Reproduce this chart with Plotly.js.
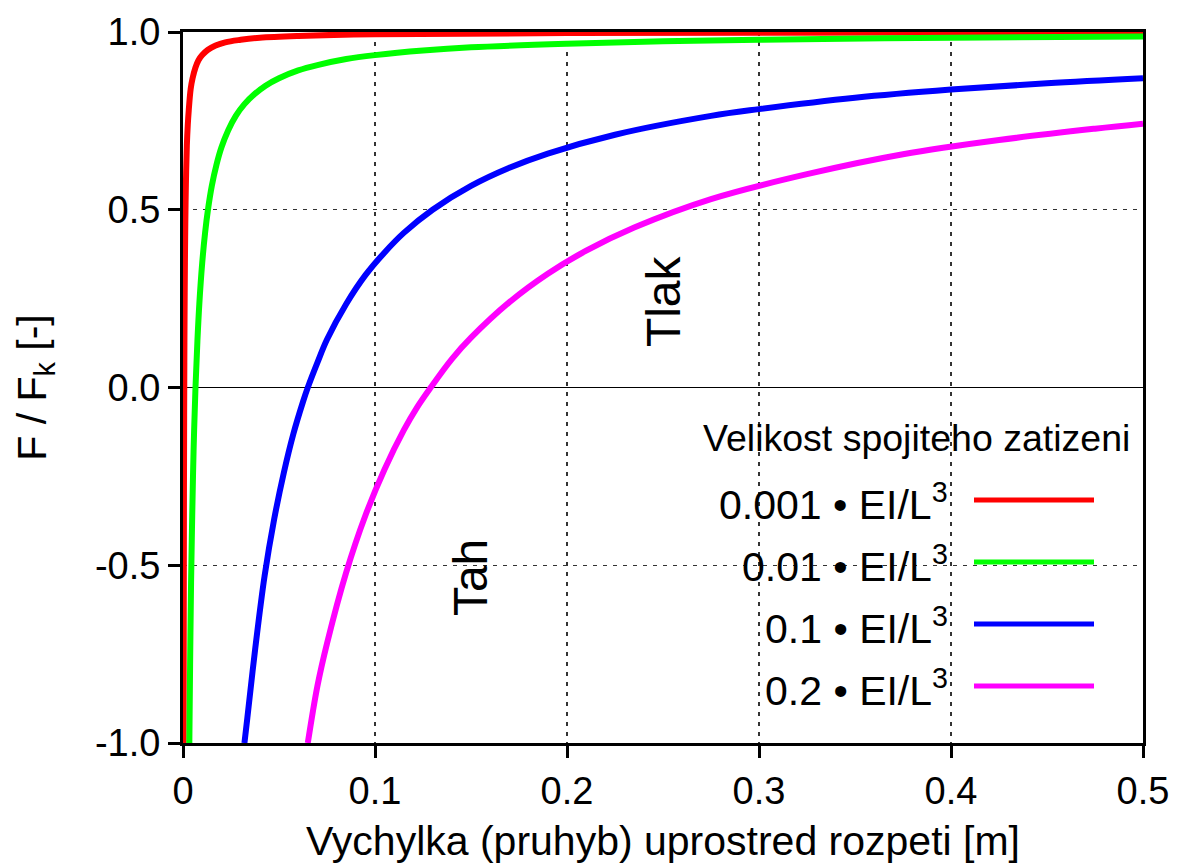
<!DOCTYPE html>
<html>
<head>
<meta charset="utf-8">
<script src="https://cdn.plot.ly/plotly-3.0.1.min.js"></script>
<style>
  html, body { margin: 0; padding: 0; background: #ffffff; }
  #chart { width: 1181px; height: 866px; }
</style>
</head>
<body>
<div id="chart"></div>
<script>
// ---- Data ----
const seriesNames = ["0.001 \u2022 EI/L<sup>3</sup>", "0.01 \u2022 EI/L<sup>3</sup>", "0.1 \u2022 EI/L<sup>3</sup>", "0.2 \u2022 EI/L<sup>3</sup>"];
const seriesColors = ["#ff0000", "#00ff00", "#0000ff", "#ff00ff"];

const redX = [0.00031, 0.0004, 0.0005, 0.0006, 0.0007, 0.0008, 0.001, 0.0012, 0.0015, 0.002, 0.0025, 0.003, 0.004, 0.005, 0.0065, 0.008, 0.01, 0.013, 0.017, 0.022, 0.03, 0.04, 0.06, 0.1, 0.2, 0.5];
const redY = [-1.0, -0.62, -0.3, -0.08, 0.07, 0.19, 0.35, 0.46, 0.57, 0.68, 0.74, 0.78, 0.84, 0.87, 0.9, 0.92, 0.935, 0.95, 0.962, 0.971, 0.978, 0.984, 0.989, 0.994, 0.997, 0.999];

const greenX = [0.0033, 0.0037, 0.0042, 0.0048, 0.0055, 0.0065, 0.0075, 0.0085, 0.01, 0.0115, 0.013, 0.015, 0.0175, 0.02, 0.0235, 0.0275, 0.032, 0.037, 0.043, 0.05, 0.06, 0.07, 0.085, 0.1, 0.125, 0.15, 0.2, 0.25, 0.3, 0.4, 0.5];
const greenY = [-1.0, -0.78, -0.55, -0.36, -0.18, 0.0, 0.13, 0.235, 0.35, 0.435, 0.5, 0.567, 0.628, 0.675, 0.723, 0.764, 0.797, 0.824, 0.849, 0.87, 0.892, 0.907, 0.924, 0.935, 0.948, 0.957, 0.967, 0.974, 0.978, 0.984, 0.987];

const blueX = [0.032, 0.0335, 0.0375, 0.0425, 0.0475, 0.0525, 0.0575, 0.0625, 0.065, 0.07, 0.075, 0.085, 0.095, 0.105, 0.115, 0.13, 0.15, 0.17, 0.19, 0.225, 0.275, 0.3, 0.35, 0.4, 0.45, 0.5];
const blueY = [-1.0, -0.93, -0.74, -0.53, -0.37, -0.24, -0.13, -0.04, 0.0, 0.07, 0.135, 0.235, 0.316, 0.38, 0.435, 0.5, 0.567, 0.618, 0.658, 0.711, 0.764, 0.783, 0.815, 0.838, 0.856, 0.87];

const magentaX = [0.065, 0.07, 0.075, 0.085, 0.095, 0.105, 0.115, 0.122, 0.129, 0.14, 0.15, 0.17, 0.19, 0.21, 0.235, 0.275, 0.325, 0.375, 0.425, 0.475, 0.5];
const magentaY = [-1.0, -0.84, -0.72, -0.52, -0.36, -0.23, -0.12, -0.055, 0.0, 0.08, 0.14, 0.24, 0.32, 0.385, 0.45, 0.53, 0.6, 0.656, 0.696, 0.728, 0.742];

const yTickVals = [-1.0, -0.5, 0.0, 0.5, 1.0];
const yTickText = ["-1.0", "-0.5", "0.0", "0.5", "1.0"];
const xTickVals = [0, 0.1, 0.2, 0.3, 0.4, 0.5];
const xTickText = ["0", "0.1", "0.2", "0.3", "0.4", "0.5"];

const xTitle = "Vychylka (pruhyb) uprostred rozpeti [m]";
const yTitle = "F / F<sub>k</sub> [-]";
const legendTitle = "Velikost spojiteho zatizeni";
const labelTlak = "Tlak";
const labelTah = "Tah";

// ---- Layout helpers ----
const FONT = "Liberation Sans, Arial, Helvetica, sans-serif";
const W = 1181, H = 866;
const M = { l: 183, r: 38, t: 32, b: 123 };
const plotW = W - M.l - M.r, plotH = H - M.t - M.b;
const px2paperX = px => (px - M.l) / plotW;
const py2paperY = py => (H - M.b - py) / plotH;

const xs = [redX, greenX, blueX, magentaX];
const ys = [redY, greenY, blueY, magentaY];

const traces = xs.map((x, i) => ({
  type: "scatter",
  mode: "lines",
  x: x,
  y: ys[i],
  name: seriesNames[i],
  line: { color: seriesColors[i], width: 6, shape: "spline", smoothing: 1 },
  showlegend: false,
  hoverinfo: "skip"
}));

// manual gnuplot-style key (text right, sample line on its right)
const rowTextY = [502, 564, 626, 688];
const rowLineY = [500, 562, 624, 686];
const annotations = [
  { xref: "paper", yref: "paper", x: px2paperX(916), y: py2paperY(438), xanchor: "center", yanchor: "middle",
    text: legendTitle, showarrow: false, font: { family: FONT, size: 37.5, color: "#000" } },
  { xref: "x", yref: "y", x: 0.25, y: 0.243, xanchor: "center", yanchor: "middle", textangle: -90,
    text: labelTlak, showarrow: false, font: { family: FONT, size: 48, color: "#000" } },
  { xref: "x", yref: "y", x: 0.1495, y: -0.536, xanchor: "center", yanchor: "middle", textangle: -90,
    text: labelTah, showarrow: false, font: { family: FONT, size: 48, color: "#000" } }
];
const shapes = [
  // key background (hides grid like the original)
  { type: "rect", layer: "between", xref: "paper", yref: "paper",
    x0: px2paperX(647), x1: px2paperX(1120), y0: py2paperY(715), y1: py2paperY(470),
    fillcolor: "#ffffff", line: { width: 0 } }
];
seriesNames.forEach((n, i) => {
  annotations.push({ xref: "paper", yref: "paper", x: px2paperX(950), y: py2paperY(rowTextY[i]),
    xanchor: "right", yanchor: "middle", text: n, showarrow: false,
    font: { family: FONT, size: 41, color: "#000" } });
  shapes.push({ type: "line", xref: "paper", yref: "paper",
    x0: px2paperX(974), x1: px2paperX(1094), y0: py2paperY(rowLineY[i]), y1: py2paperY(rowLineY[i]),
    line: { color: seriesColors[i], width: 5 } });
});

const axisCommon = {
  showline: true, linecolor: "#000", linewidth: 3, mirror: true,
  ticks: "outside", ticklen: 12, tickwidth: 3, tickcolor: "#000",
  showgrid: true, gridcolor: "#333", gridwidth: 1.4, griddash: "4px,6px",
  tickfont: { family: FONT, size: 38, color: "#000" },
  fixedrange: true, automargin: false
};

const layout = {
  width: W, height: H,
  margin: M,
  paper_bgcolor: "#fff", plot_bgcolor: "#fff",
  showlegend: false,
  font: { family: FONT, color: "#000" },
  xaxis: Object.assign({}, axisCommon, {
    range: [0, 0.5], tickvals: xTickVals, ticktext: xTickText, zeroline: false,
    title: { text: xTitle, font: { family: FONT, size: 41, color: "#000" }, standoff: 16 }
  }),
  yaxis: Object.assign({}, axisCommon, {
    range: [-1, 1], tickvals: yTickVals, ticktext: yTickText,
    zeroline: true, zerolinecolor: "#000", zerolinewidth: 1.5,
    title: { text: yTitle, font: { family: FONT, size: 41, color: "#000" }, standoff: 36 }
  }),
  annotations: annotations,
  shapes: shapes
};

Plotly.newPlot("chart", traces, layout, { staticPlot: true, displayModeBar: false });
</script>
</body>
</html>
